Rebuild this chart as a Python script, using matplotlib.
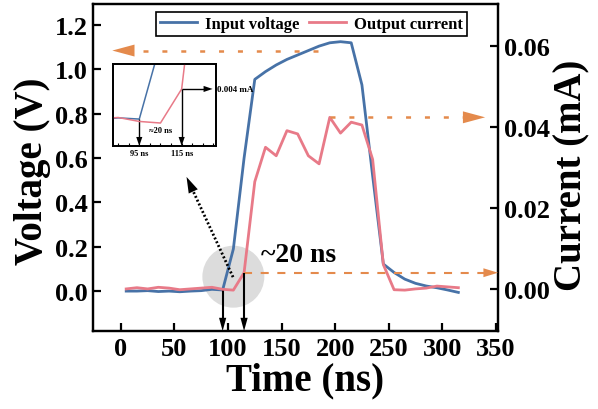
import numpy as np
import matplotlib
matplotlib.use("Agg")
import matplotlib.pyplot as plt
from matplotlib.ticker import MultipleLocator, FormatStrFormatter

plt.rcParams["font.family"] = ["Liberation Serif", "DejaVu Serif"]
plt.rcParams["font.weight"] = "bold"
plt.rcParams["axes.labelweight"] = "bold"
plt.rcParams["lines.scale_dashes"] = False

# ---- data -------------------------------------------------------------
time_ns = [5, 15, 25, 35, 45, 55, 65, 75, 85, 95,
           105, 115, 125, 135, 145, 155, 165, 175, 185, 195, 205, 215,
           225, 235, 245, 255, 265, 275, 285, 295, 305, 315]
voltage_v = [0.000, 0.000, 0.002, -0.002, 0.000, -0.003, 0.000, 0.002, 0.008, 0.005,
             0.19, 0.60, 0.955, 0.99, 1.02, 1.045, 1.065, 1.085, 1.105, 1.12, 1.125, 1.12,
             0.93, 0.52, 0.122, 0.084, 0.054, 0.035, 0.023, 0.015, 0.005, -0.006]
current_ma = [0.0000, 0.0003, 0.0000, 0.0004, 0.0002, -0.0002, 0.0000, 0.0002, 0.0004, -0.0001,
              -0.0003, 0.0040, 0.0265, 0.0350, 0.0329, 0.0391, 0.0383, 0.0329, 0.0309, 0.0424, 0.0385, 0.0412,
              0.0405, 0.0320, 0.0060, -0.0002, -0.0003, 0.0000, 0.0002, 0.0007, 0.0005, 0.0003]

x_ticks = [0, 50, 100, 150, 200, 250, 300, 350]
v_ticks = [0.0, 0.2, 0.4, 0.6, 0.8, 1.0, 1.2]
i_ticks = [0.00, 0.02, 0.04, 0.06]

t_on_v = 95      # input edge
t_on_i = 115     # output edge
delay_label = "~20 ns"

BLUE = "#4772A7"
PINK = "#E87A88"
ORANGE = "#E48A4C"

t = np.array(time_ns)
v = np.array(voltage_v)
i = np.array(current_ma)
v_on = v[time_ns.index(t_on_v)]
i_on = i[time_ns.index(t_on_i)]

# ---- figure -----------------------------------------------------------
W, H = 598, 410
fig = plt.figure(figsize=(W / 100, H / 100), dpi=100)
ax = fig.add_axes([93 / W, 1 - 332 / H, 405 / W, 327 / H])
ax2 = ax.twinx()

ax.set_xlim(-26, 352)
ax.set_ylim(-0.18, 1.295)
ax2.set_ylim(-0.0104, 0.0704)

for a in (ax, ax2):
    for s in a.spines.values():
        s.set_linewidth(1.6)

ax.set_xticks(x_ticks)
ax.set_yticks(v_ticks)
ax.yaxis.set_major_formatter(FormatStrFormatter("%.1f"))
ax2.set_yticks(i_ticks)
ax2.yaxis.set_major_formatter(FormatStrFormatter("%.2f"))
ax.tick_params(direction="in", length=6, width=1.6, labelsize=19, pad=4,
               top=False, right=False)
ax2.tick_params(direction="in", length=6, width=1.6, labelsize=19, pad=4,
                left=False, right=True)

ax.set_xlabel("Time (ns)", fontsize=28)
ax.set_ylabel("Voltage (V)", fontsize=28)
ax2.set_ylabel("Current (mA)", fontsize=28)
ax.xaxis.set_label_coords(0.523, -0.150)
ax.yaxis.set_label_coords(-0.150, 0.492)
ax2.yaxis.set_label_coords(1.183, 0.48)
for lab in (ax.xaxis.label, ax.yaxis.label, ax2.yaxis.label):
    lab.set_va("center")
    lab.set_ha("center")

# highlight around the switching edge
ax.scatter([(t_on_v + t_on_i) / 2], [0.065], s=1990, color="#dcdcdc",
           edgecolors="none", zorder=1)

ln_v, = ax.plot(t, v, color=BLUE, lw=2.0, zorder=3, label="Input voltage")
ln_i, = ax2.plot(t, i, color=PINK, lw=2.0, zorder=3, label="Output current")


def arrow(a, p0, p1, color, lw, ls, head_len, head_w, clip=False):
    """Line from p0 to p1 (data coords of a) with a filled head at p1; sizes in points."""
    d0 = a.transData.transform(p0)
    d1 = a.transData.transform(p1)
    u = (d1 - d0) / np.hypot(*(d1 - d0))
    base = a.transData.inverted().transform(d1 - u * head_len * 100 / 72 * 0.9)
    a.plot([p0[0], base[0]], [p0[1], base[1]], color=color, lw=lw, ls=ls,
           solid_capstyle="butt", dash_capstyle="butt", clip_on=clip, zorder=5)
    a.annotate("", xy=p1, xytext=p0, annotation_clip=False,
               arrowprops=dict(arrowstyle=f"-|>,head_length={head_len},head_width={head_w}",
                               color=color, lw=0, shrinkA=0, shrinkB=0,
                               mutation_scale=1), zorder=6)


# guide arrows toward each axis
t_peak = time_ns[int(np.argmax(i))]
v_guide = voltage_v[time_ns.index(175)]
arrow(ax, (184, v_guide), (-8, v_guide),
      ORANGE, 1.8, (0, (3.6, 10.0)), 16, 4.3)
arrow(ax2, (t_peak, i.max()), (340, i.max()),
      ORANGE, 1.8, (0, (3.6, 10.0)), 16, 4.3)
arrow(ax2, (t_on_i, i_on), (352, i_on),
      ORANGE, 1.5, (0, (5.8, 6.2)), 10.5, 3.2)

# edge markers down to the time axis
arrow(ax, (t_on_v, v_on), (t_on_v, -0.18), "black", 1.5, "-", 9.5, 2.6)
arrow(ax2, (t_on_i, i_on), (t_on_i, -0.0104), "black", 1.5, "-", 9.5, 2.6)

# dotted pointer to the zoomed view
arrow(ax, (104.7, 0.063), (61.3, 0.515), "black", 2.0, (0, (1.4, 1.6)), 11.5, 3.6)

ax.text(131, 0.137, delay_label, fontsize=20, va="baseline", ha="left", zorder=7)

leg = ax2.legend(handles=[ln_v, ln_i], ncol=2, loc="upper left",
                 bbox_to_anchor=(155.7 / W, 1 - 12.7 / H), bbox_transform=fig.transFigure,
                 borderaxespad=0, borderpad=0.25, handlelength=2.2, handletextpad=0.5,
                 columnspacing=0.6, fontsize=12, frameon=True, fancybox=False,
                 framealpha=1, edgecolor="black")
leg.get_frame().set_linewidth(1.2)

# ---- zoomed view of the switching edge -------------------------------
ins = fig.add_axes([113 / W, 1 - 147 / H, 103 / W, 82 / H])
ins2 = ins.twinx()
ins.set_xlim(82.6, 131.2)
ins.set_ylim(-0.061, 0.14)
ins2.set_ylim(-0.0032, 0.00715)
for a in (ins, ins2):
    for s in a.spines.values():
        s.set_linewidth(1.3)
ins.plot(t, v, color=BLUE, lw=1.1)
ins2.plot(t, i, color=PINK, lw=1.1)
ins.set_yticks([])
ins2.set_yticks([])
ins.set_xticks([t_on_v, t_on_i])
ins.set_xticklabels([f"{t_on_v} ns", f"{t_on_i} ns"])
ins.xaxis.set_minor_locator(MultipleLocator(5))
ins.tick_params(axis="x", which="both", direction="in", length=2, width=0.8,
                labelsize=6, pad=2, top=False)

arrow(ins, (t_on_v, v_on), (t_on_v, -0.061), "black", 1.0, "-", 6.5, 2.2)
arrow(ins2, (t_on_i, i_on), (t_on_i, -0.0032), "black", 1.0, "-", 6.5, 2.2)
arrow(ins2, (t_on_i, i_on), (129.6, i_on), "black", 1.0, "-", 6.5, 2.2)
ins.text(99.4, -0.021, "\u224820 ns", fontsize=6, va="center", ha="left")
ins2.annotate(f"{i_on:.3f} mA", xy=(1.005, i_on), xycoords=("axes fraction", "data"),
              va="center", ha="left", fontsize=6.5, annotation_clip=False)

fig.savefig("out.png", dpi=100)
